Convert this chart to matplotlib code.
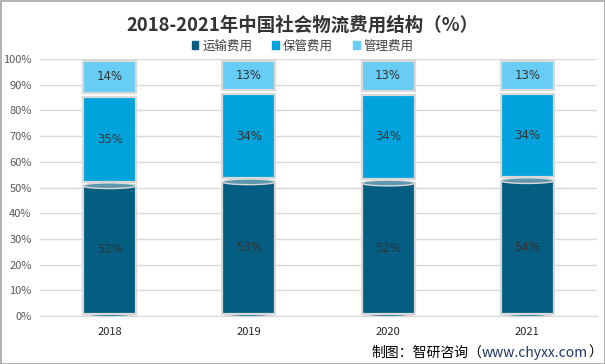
import matplotlib
matplotlib.use("Agg")
import matplotlib.pyplot as plt
import numpy as np
from matplotlib.patches import Ellipse, Rectangle

plt.rcParams['font.family'] = ['Noto Sans CJK SC', 'DejaVu Sans']

years = ["2018", "2019", "2020", "2021"]
series_names = ["运输费用", "保管费用", "管理费用"]
transport = [52, 53, 52, 54]
storage = [35, 34, 34, 34]
management = [14, 13, 13, 13]
colors = ["#035E82", "#00A3DB", "#67CDF5"]
top_colors = ["#5E97AE", "#4FC0E6", "#9ADDF7"]

series = [transport, storage, management]
totals = np.array(transport) + np.array(storage) + np.array(management)

fig = plt.figure(figsize=(6.05, 3.64), dpi=100)
ax = fig.add_axes([40/605, 1-316/364, 557/605, 257/364])
x = np.arange(len(years))
width = 0.38
gap = 0.008

bottom = np.zeros(len(years))
for i, (vals, c) in enumerate(zip(series, colors)):
    frac = np.array(vals) / totals
    ax.bar(x, frac - 2*gap, width, bottom=bottom + gap, color=c,
           edgecolor="#D9D9D9", linewidth=1.6, zorder=3, label=series_names[i])
    for j in range(len(years)):
        if i == 0:
            ax.add_patch(Ellipse((x[j], bottom[j] + frac[j] - gap), width, 0.022,
                                 facecolor=top_colors[0], edgecolor="#D9D9D9",
                                 linewidth=1.0, zorder=4))
            ax.add_patch(Ellipse((x[j], gap), width, 0.02, facecolor=c,
                                 edgecolor="#D9D9D9", linewidth=1.0, zorder=2.9))
        ax.text(x[j], bottom[j] + frac[j]/2, f"{vals[j]}%", ha="center", va="center",
                fontsize=8.5, color="#333333", zorder=5, family=['DejaVu Sans'])
    bottom += frac

ax.set_ylim(0, 1)
ax.set_xlim(-0.5, len(years) - 0.5)
ax.set_yticks(np.linspace(0, 1, 11))
ax.set_yticklabels([f"{int(v)}%" for v in np.linspace(0, 100, 11)], fontsize=8, color="#595959")
ax.set_xticks(x)
ax.set_xticklabels(years, fontsize=8, color="#262626")
ax.tick_params(axis='y', length=0, pad=6)
ax.tick_params(axis='x', length=0, pad=8)
ax.yaxis.grid(True, color="#D9D9D9", linewidth=1, zorder=0)
for s in ax.spines.values():
    s.set_visible(False)
ax.spines['bottom'].set_visible(True)
ax.spines['bottom'].set_color("#D9D9D9")

fig.text(0.5, 1-25/364, "2018-2021年中国社会物流费用结构（%）", ha="center", va="center",
         fontsize=13.3, fontweight="bold", color="#333333")

handles = [Rectangle((0, 0), 1, 1, color=c) for c in colors]
fig.legend(handles, series_names, loc="center", bbox_to_anchor=(0.5, 1-46/364), ncol=3,
           frameon=False, fontsize=9, handlelength=0.55, handleheight=0.55,
           handletextpad=0.3, columnspacing=1.6, labelcolor="#404040")

src = fig.text(1-3/605, 1-353/364, "）", ha="right", va="center", fontsize=10, color="#000000")
fig.canvas.draw()
r = fig.canvas.get_renderer()
bb = src.get_window_extent(r)
t2 = fig.text(bb.x0 / fig.bbox.width, 1-353/364, "www.chyxx.com", ha="right", va="center",
              fontsize=10, color="#1F3864")
bb2 = t2.get_window_extent(r)
fig.text(bb2.x0 / fig.bbox.width, 1-353/364, "制图：智研咨询（", ha="right", va="center",
         fontsize=10, color="#000000")

fig.add_artist(Rectangle((0.5/605, 0.5/364), 1-1/605, 1-1/364, transform=fig.transFigure,
                         fill=False, edgecolor="#A6A6A6", linewidth=1.2))

fig.savefig("out.png", dpi=100)
